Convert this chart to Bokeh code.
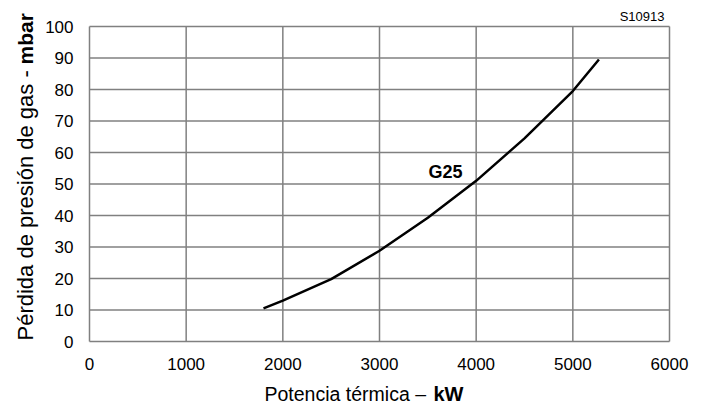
import math
from bokeh.plotting import figure
from bokeh.models import Range1d, Label, FixedTicker
from bokeh.embed import file_html
from bokeh.resources import INLINE

# Data
power_kw = [1800, 2000, 2500, 3000, 3500, 4000, 4500, 5000, 5270]
pressure_mbar = [10.5, 13.0, 19.8, 28.8, 39.3, 51.0, 64.5, 79.5, 89.5]
x_ticks = [0, 1000, 2000, 3000, 4000, 5000, 6000]
y_ticks = [0, 10, 20, 30, 40, 50, 60, 70, 80, 90, 100]
series_label = "G25"
code_label = "S10913"
x_title = "Potencia térmica – "
x_title_bold = "kW"
y_title = "Pérdida de presión de gas - "
y_title_bold = "mbar"

FONT = "Liberation Sans"
GRID = "#808080"

# Layout: the frame spans the whole canvas; the plot box sits at these pixels
W, H = 700, 405
BOX_L, BOX_R, BOX_T, BOX_B = 89, 669, 26, 341
dx = (x_ticks[-1] - x_ticks[0]) / (BOX_R - BOX_L)   # data units per pixel
dy = (y_ticks[-1] - y_ticks[0]) / (BOX_B - BOX_T)
x0r = x_ticks[0] - BOX_L * dx
x1r = x_ticks[-1] + (W - BOX_R) * dx
y0r = y_ticks[0] - (H - BOX_B) * dy
y1r = y_ticks[-1] + BOX_T * dy


def px(X):
    return x0r + X * dx


def py(Y):
    return y1r - Y * dy


p = figure(width=W, height=H, output_backend="svg", toolbar_location=None,
           x_range=Range1d(x0r, x1r), y_range=Range1d(y0r, y1r), min_border=0,
           min_border_left=0, min_border_right=0, min_border_top=0, min_border_bottom=0)
p.outline_line_color = None
p.grid.visible = False

for ax in (p.xaxis[0], p.yaxis[0]):
    ax.fixed_location = 0
    ax.axis_line_color = None
    ax.major_tick_line_color = None
    ax.minor_tick_line_color = None
    ax.major_tick_out = 0
    ax.major_tick_in = 0
    ax.major_label_text_font = FONT
    ax.major_label_text_font_size = "17px"
    ax.major_label_text_color = "#000000"
    ax.major_label_standoff = 16

p.xaxis[0].ticker = FixedTicker(ticks=x_ticks)
p.yaxis[0].ticker = FixedTicker(ticks=y_ticks)

# grid and plot box from the tick values
p.segment(x0=x_ticks, y0=[y_ticks[0]] * len(x_ticks), x1=x_ticks, y1=[y_ticks[-1]] * len(x_ticks),
          line_color=GRID, line_width=1.5)
p.segment(x0=[x_ticks[0]] * len(y_ticks), y0=y_ticks, x1=[x_ticks[-1]] * len(y_ticks), y1=y_ticks,
          line_color=GRID, line_width=1.5)

p.line(power_kw, pressure_mbar, line_color="black", line_width=2.5)


def label(X, Y, text, size, bold=False, align="left", angle=0.0):
    p.add_layout(Label(x=px(X), y=py(Y), text=text, text_font=FONT, text_font_size=size,
                       text_font_style="bold" if bold else "normal", text_color="#000000",
                       text_align=align, text_baseline="alphabetic", angle=angle))


label(428, 171, series_label, "18px", bold=True)
label(664, 16, code_label, "13px", align="right")

# x axis title (mixed weight)
label(264, 393, x_title, "19.5px")
label(433, 393, x_title_bold, "20px", bold=True)

# y axis title (mixed weight), rotated
label(25, 340, y_title, "22px", angle=math.pi / 2)
label(25, 64, y_title_bold, "21px", bold=True, angle=math.pi / 2)

open("out.html", "w").write(file_html(p, INLINE))
